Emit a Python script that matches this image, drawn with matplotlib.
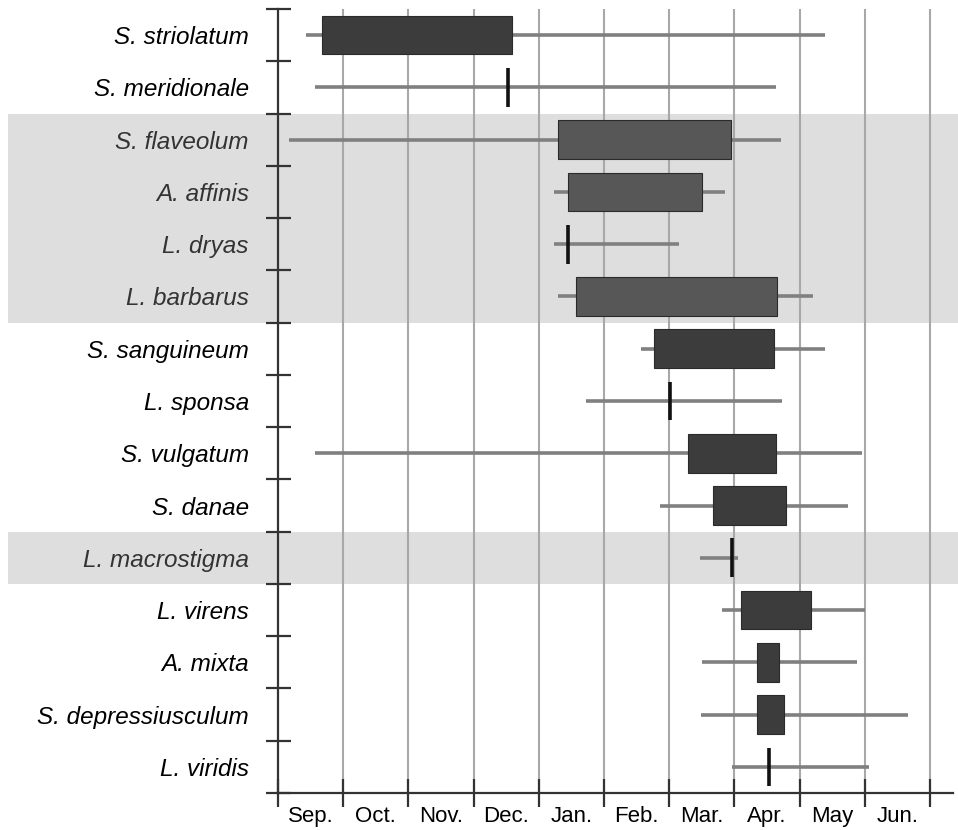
import matplotlib.pyplot as plt
from matplotlib.patches import Rectangle
import matplotlib.transforms as mtransforms
import numpy as np

plt.rcParams['font.family'] = ['Liberation Sans', 'DejaVu Sans']

species = ["S. striolatum", "S. meridionale", "S. flaveolum", "A. affinis", "L. dryas",
           "L. barbarus", "S. sanguineum", "L. sponsa", "S. vulgatum", "S. danae",
           "L. macrostigma", "L. virens", "A. mixta", "S. depressiusculum", "L. viridis"]
months = ["Sep.", "Oct.", "Nov.", "Dec.", "Jan.", "Feb.", "Mar.", "Apr.", "May", "Jun."]

# months since 1 Sep; None = no box (single date marker instead)
whisker_lo = [0.43, 0.57, 0.17, 4.23, 4.23, 4.29, 5.57, 4.72, 0.57, 5.86, 6.47, 6.81, 6.50, 6.49, 6.96]
box_lo = [0.67, None, 4.29, 4.45, None, 4.57, 5.77, None, 6.29, 6.67, None, 7.10, 7.35, 7.35, None]
box_hi = [3.59, None, 6.95, 6.50, None, 7.65, 7.61, None, 7.64, 7.79, None, 8.17, 7.68, 7.76, None]
marker = [None, 3.53, None, None, 4.45, None, None, 6.01, None, None, 6.96, None, None, None, 7.53]
whisker_hi = [8.39, 7.64, 7.71, 6.86, 6.15, 8.21, 8.39, 7.73, 8.96, 8.74, 7.06, 9.00, 8.88, 9.66, 9.06]
shaded = [2, 3, 4, 5, 10]

fig = plt.figure(figsize=(9.58, 8.30), dpi=100)
ax = fig.add_axes([278 / 958, 1 - 793 / 830, 675 / 958, 784 / 830])
ax.set_xlim(0, 675 / 65.2)
ax.set_ylim(len(species), 0)

# grey bands that run out past the axis to the labels
trans = mtransforms.blended_transform_factory(ax.transAxes, ax.transData)
for i in shaded:
    ax.add_patch(Rectangle((-270 / 675, i), 1 + 275 / 675, 1, transform=trans,
                           facecolor='#dedede', edgecolor='none', clip_on=False, zorder=0))

for m in range(1, len(months) + 1):
    ax.axvline(m, color='#a8a8a8', lw=1.5, zorder=1)

h = 0.74
for i in range(len(species)):
    y = i + 0.5
    ax.plot([whisker_lo[i], whisker_hi[i]], [y, y], color='#808080', lw=2.6,
            solid_capstyle='butt', zorder=2)
    if box_lo[i] is not None:
        fc = '#575757' if i in shaded else '#3c3c3c'
        ax.barh(y, box_hi[i] - box_lo[i], left=box_lo[i], height=h, color=fc,
                edgecolor='#2a2a2a', lw=0.8, zorder=3)
    if marker[i] is not None:
        ax.plot([marker[i], marker[i]], [y - h / 2, y + h / 2], color='#111111', lw=2.6,
                solid_capstyle='butt', zorder=3)

for s in ['top', 'right']:
    ax.spines[s].set_visible(False)
for s in ['left', 'bottom']:
    ax.spines[s].set_color('#333333')
    ax.spines[s].set_linewidth(1.6)
    ax.spines[s].set_zorder(4)

ax.set_yticks(np.arange(len(species) + 1))
ax.set_yticklabels([])
ax.set_yticks(np.arange(len(species)) + 0.5, minor=True)
ax.set_yticklabels(species, minor=True, fontsize=17.5, style='italic')
for i, lab in enumerate(ax.get_yticklabels(minor=True)):
    lab.set_color('#333333' if i in shaded else 'black')
ax.tick_params(axis='y', which='major', direction='inout', length=18, width=1.6, color='#333333')
ax.tick_params(axis='y', which='minor', length=0, pad=21)

ax.set_xticks(np.arange(len(months) + 1))
ax.set_xticklabels([])
ax.set_xticks(np.arange(len(months)) + 0.5, minor=True)
ax.set_xticklabels(months, minor=True, fontsize=16)
ax.tick_params(axis='x', which='major', direction='inout', length=20, width=1.6, color='#333333')
ax.tick_params(axis='x', which='minor', length=0, pad=9)

fig.savefig('out.png', dpi=100)
